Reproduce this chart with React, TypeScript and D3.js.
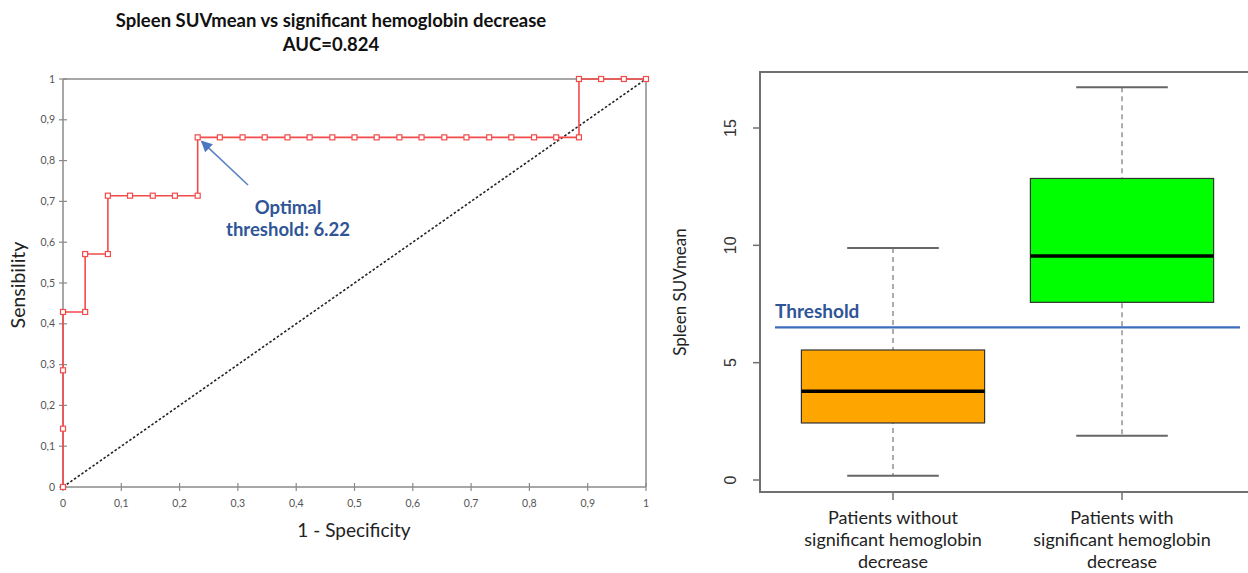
import * as d3 from 'd3';

// ROC curve (1 - specificity, sensitivity)
const rocFpr = [0, 0, 0, 0, 0.038, 0.038, 0.077, 0.077, 0.115, 0.154, 0.192, 0.231, 0.231, 0.269, 0.308, 0.346, 0.385, 0.423, 0.462, 0.5, 0.538, 0.577, 0.615, 0.654, 0.692, 0.731, 0.769, 0.808, 0.846, 0.885, 0.885, 0.923, 0.962, 1];
const rocTpr = [0, 0.143, 0.286, 0.429, 0.429, 0.571, 0.571, 0.714, 0.714, 0.714, 0.714, 0.714, 0.857, 0.857, 0.857, 0.857, 0.857, 0.857, 0.857, 0.857, 0.857, 0.857, 0.857, 0.857, 0.857, 0.857, 0.857, 0.857, 0.857, 0.857, 1, 1, 1, 1];
const rocTicks = [0, 0.1, 0.2, 0.3, 0.4, 0.5, 0.6, 0.7, 0.8, 0.9, 1];

// box plot
const groups = ['without', 'with'];
const groupLabels = [
  ['Patients without', 'significant hemoglobin', 'decrease'],
  ['Patients with', 'significant hemoglobin', 'decrease'],
];
const whiskerLow = [0.18, 1.89];
const q1 = [2.43, 7.57];
const median = [3.78, 9.55];
const q3 = [5.54, 12.85];
const whiskerHigh = [9.89, 16.74];
const boxColors = ['#ffa500', '#00ff00'];
const boxTicks = [0, 5, 10, 15];
const threshold = 6.5;

const font = 'Lato, "Open Sans", sans-serif';

function RocChart() {
  const x = d3.scaleLinear().domain([0, 1]).range([63, 646]);
  const y = d3.scaleLinear().domain([0, 1]).range([487, 79]);
  const pts = rocFpr.map((f, i) => [f, rocTpr[i]] as [number, number]);
  const line = d3.line<[number, number]>().x(d => x(d[0])).y(d => y(d[1]));
  const fmt = (v: number) => String(v).replace('.', ',');
  const axisCol = '#8a8a8a';

  return (
    <g>
      <text x={331} y={27} textAnchor="middle" fontFamily={font} fontWeight="bold" fontSize={18.5} fill="#111">
        Spleen SUVmean vs significant hemoglobin decrease
      </text>
      <text x={331} y={51} textAnchor="middle" fontFamily={font} fontWeight="bold" fontSize={18.5} fill="#111">
        AUC=0.824
      </text>

      {/* frame */}
      <line x1={x(0)} x2={x(1)} y1={y(1)} y2={y(1)} stroke={axisCol} strokeWidth={1.5} />
      <line x1={x(1)} x2={x(1)} y1={y(0)} y2={y(1)} stroke={axisCol} strokeWidth={1.5} />
      <line x1={x(0)} x2={x(1)} y1={y(0)} y2={y(0)} stroke={axisCol} strokeWidth={1.5} />
      <line x1={x(0)} x2={x(0)} y1={y(0)} y2={y(1)} stroke={axisCol} strokeWidth={1.5} />

      {rocTicks.map(t => (
        <g key={'x' + t}>
          <line x1={x(t)} x2={x(t)} y1={y(0) - 4} y2={y(0) + 4} stroke={axisCol} strokeWidth={1.2} />
          <text x={x(t)} y={y(0) + 20} textAnchor="middle" fontFamily={font} fontSize={10.5} fill="#555">{fmt(t)}</text>
        </g>
      ))}
      {rocTicks.map(t => (
        <g key={'y' + t}>
          <line x1={x(0) - 4} x2={x(0) + 4} y1={y(t)} y2={y(t)} stroke={axisCol} strokeWidth={1.2} />
          <text x={x(0) - 8} y={y(t) + 3.5} textAnchor="end" fontFamily={font} fontSize={10.5} fill="#555">{fmt(t)}</text>
        </g>
      ))}

      <text x={354} y={537} textAnchor="middle" fontFamily={font} fontSize={19} fill="#222">1 - Specificity</text>
      <text transform="translate(25,285) rotate(-90)" textAnchor="middle" fontFamily={font} fontSize={19.5} fill="#222">Sensibility</text>

      {/* chance diagonal */}
      <line x1={x(0)} y1={y(0)} x2={x(1)} y2={y(1)} stroke="#222" strokeWidth={1.6} strokeDasharray="2.5,2" />

      <path d={line(pts) ?? ''} fill="none" stroke="#f44a4a" strokeWidth={1.6} />
      {pts.map((p, i) => (
        <rect key={i} x={x(p[0]) - 2.5} y={y(p[1]) - 2.5} width={5} height={5} fill="#fff" stroke="#f44a4a" strokeWidth={1.2} />
      ))}

      {/* annotation */}
      <defs>
        <marker id="arr" viewBox="0 0 10 10" refX={9} refY={5} markerWidth={7} markerHeight={7} orient="auto">
          <path d="M0,0 L10,5 L0,10 z" fill="#4a78c0" />
        </marker>
      </defs>
      <line x1={248} y1={185} x2={x(0.231) + 4} y2={y(0.857) + 4} stroke="#5a82c4" strokeWidth={1.6} markerEnd="url(#arr)" />
      <text x={288} y={214} textAnchor="middle" fontFamily={font} fontWeight="bold" fontSize={18.5} fill="#2f5597">Optimal</text>
      <text x={288} y={236} textAnchor="middle" fontFamily={font} fontWeight="bold" fontSize={18.5} fill="#2f5597">threshold: 6.22</text>
    </g>
  );
}

function BoxChart() {
  const x = d3.scalePoint<string>().domain(groups).range([893, 1122]);
  const y = d3.scaleLinear().domain([0, 15]).range([480, 128]);
  const bw = x.step() * 0.8;
  const cw = bw / 2;
  const left = 760, top = 72, bottom = 492, right = 1260;
  const frame = '#707070';

  return (
    <g>
      <path d={`M${right},${top} H${left} V${bottom} H${right}`} fill="none" stroke={frame} strokeWidth={2} />
      {boxTicks.map(t => (
        <g key={t}>
          <line x1={left - 7} x2={left} y1={y(t)} y2={y(t)} stroke={frame} strokeWidth={1.5} />
          <text transform={`translate(736,${y(t)}) rotate(-90)`} textAnchor="middle" fontFamily="'Liberation Sans', Arial, sans-serif" fontSize={16} fill="#333">{t}</text>
        </g>
      ))}
      <text transform="translate(686,292) rotate(-90)" textAnchor="middle" fontFamily={font} fontSize={17} fill="#222">Spleen SUVmean</text>

      {groups.map((g, i) => {
        const cx = x(g) ?? 0;
        return (
          <g key={g}>
            <line x1={cx} x2={cx} y1={bottom} y2={bottom + 8} stroke={frame} strokeWidth={1.5} />
            <line x1={cx} x2={cx} y1={y(whiskerHigh[i])} y2={y(whiskerLow[i])} stroke="#777" strokeWidth={1.2} strokeDasharray="5,4" />
            <line x1={cx - cw / 2} x2={cx + cw / 2} y1={y(whiskerHigh[i])} y2={y(whiskerHigh[i])} stroke="#666" strokeWidth={2} />
            <line x1={cx - cw / 2} x2={cx + cw / 2} y1={y(whiskerLow[i])} y2={y(whiskerLow[i])} stroke="#666" strokeWidth={2} />
            <rect x={cx - bw / 2} y={y(q3[i])} width={bw} height={y(q1[i]) - y(q3[i])} fill={boxColors[i]} stroke="#333" strokeWidth={1.2} />
            <line x1={cx - bw / 2} x2={cx + bw / 2} y1={y(median[i])} y2={y(median[i])} stroke="#000" strokeWidth={3.5} />
            {groupLabels[i].map((l, k) => (
              <text key={k} x={cx} y={524 + k * 22} textAnchor="middle" fontFamily={font} fontSize={18} fill="#222">{l}</text>
            ))}
          </g>
        );
      })}

      <line x1={775} x2={1240} y1={y(threshold)} y2={y(threshold)} stroke="#3c6dbf" strokeWidth={2.2} />
      <text x={775} y={y(threshold) - 9} fontFamily={font} fontWeight="bold" fontSize={19} fill="#2f5597">Threshold</text>
    </g>
  );
}

export default function App() {
  return (
    <svg width={1248} height={573} style={{ position: 'absolute', left: 0, top: 0, background: '#fff' }}>
      <RocChart />
      <BoxChart />
    </svg>
  );
}
